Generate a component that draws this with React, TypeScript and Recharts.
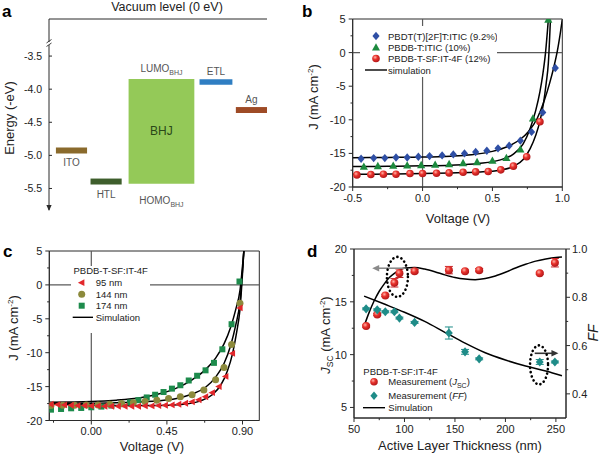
import React from 'react';
import {
  ComposedChart, Scatter, Line, XAxis, YAxis, ReferenceLine, ReferenceArea,
  ReferenceDot, Legend, ErrorBar,
} from 'recharts';

const FONT = '"Liberation Sans", Arial, Helvetica, sans-serif';
const AXIS = '#2b2b2b';
const ZERO = '#5a5a5a';
const TXT = '#222';
const W = 600;
const H = 455;

// ---------------- Panel a : energy levels ----------------
const layerNames = ['ITO', 'HTL', 'BHJ', 'ETL', 'Ag'];
const layerUpper = [-4.88, -5.35, -3.845, -3.85, -4.27];
const layerLower = [-4.97, -5.44, -5.43, -3.935, -4.36];
const layerColors = ['#8A6A2C', '#3E5E2C', '#94C958', '#2F7EC2', '#9E4B26'];
const energyTicks = [-5.5, -5.0, -4.5, -4.0, -3.5];
const energyTop = -2.94;
const energyBottom = -5.825;

// ---------------- Panel b : J-V of three blends ----------------
const bBlueV = [-0.44, -0.35, -0.27, -0.19, -0.11, -0.03, 0.05, 0.14, 0.22, 0.30, 0.38, 0.46, 0.54, 0.62, 0.70, 0.78, 0.86, 0.95];
const bBlueJ = [-15.8, -15.7, -15.7, -15.6, -15.6, -15.5, -15.4, -15.3, -15.15, -15.0, -14.8, -14.6, -14.25, -13.85, -13.1, -11.8, -8.9, -2.3];
const bGreenV = [-0.42, -0.32, -0.21, -0.11, -0.01, 0.09, 0.19, 0.29, 0.39, 0.50, 0.60, 0.70, 0.79, 0.90];
const bGreenJ = [-17.0, -16.9, -16.85, -16.8, -16.75, -16.7, -16.6, -16.45, -16.3, -16.1, -15.7, -14.4, -9.8, 4.9];
const bRedV = [-0.47, -0.37, -0.28, -0.19, -0.09, 0.0, 0.10, 0.19, 0.29, 0.38, 0.47, 0.56, 0.65, 0.745, 0.84];
const bRedJ = [-18.2, -18.15, -18.1, -18.1, -18.0, -18.0, -17.95, -17.9, -17.8, -17.75, -17.7, -17.45, -16.9, -15.5, -10.3];
const bSimBlueV = [-0.5, -0.25, 0, 0.2, 0.35, 0.5, 0.6, 0.7, 0.76, 0.82, 0.87, 0.91, 0.94, 0.965, 0.985, 1.0];
const bSimBlueJ = [-15.65, -15.6, -15.55, -15.42, -15.2, -14.7, -14.05, -12.9, -11.7, -9.8, -7.2, -4.5, -2.1, 0.3, 2.8, 4.9];
const bSimGreenV = [-0.5, -0.25, 0, 0.2, 0.4, 0.55, 0.65, 0.72, 0.77, 0.81, 0.84, 0.86, 0.88, 0.9];
const bSimGreenJ = [-16.95, -16.92, -16.85, -16.75, -16.5, -16.0, -15.1, -13.6, -11.3, -8.6, -5.8, -3.3, 0.0, 4.9];
const bSimRedV = [-0.5, -0.25, 0, 0.2, 0.4, 0.55, 0.65, 0.72, 0.77, 0.81, 0.84, 0.865, 0.885, 0.9, 0.915];
const bSimRedJ = [-18.1, -18.07, -18.0, -17.92, -17.78, -17.5, -16.95, -15.9, -14.3, -12.3, -10.2, -7.6, -4.5, -1.6, 4.9];
const bLegendNames = ['PBDT(T)[2F]T:ITIC (9.2%)', 'PBDB-T:ITIC (10%)', 'PBDB-T-SF:IT-4F (12%)', 'simulation'];

// ---------------- Panel c : thickness-dependent J-V ----------------
const cRedV = [-0.24, -0.20, -0.16, -0.12, -0.08, -0.04, 0.00, 0.04, 0.08, 0.12, 0.16, 0.20, 0.24, 0.28, 0.32, 0.36, 0.40, 0.44, 0.48, 0.52, 0.56, 0.60, 0.64, 0.68, 0.72, 0.76, 0.80, 0.84, 0.885];
const cRedJ = [-17.6, -17.65, -17.7, -17.75, -17.8, -17.8, -17.85, -17.85, -17.9, -17.9, -17.9, -17.9, -17.9, -17.9, -17.85, -17.85, -17.8, -17.75, -17.7, -17.6, -17.45, -17.25, -16.95, -16.5, -15.9, -15.0, -13.5, -10.1, -3.4];
const cOliveV = [-0.24, -0.17, -0.10, -0.03, 0.04, 0.11, 0.18, 0.25, 0.32, 0.39, 0.46, 0.53, 0.60, 0.67, 0.74, 0.79, 0.835, 0.885];
const cOliveJ = [-17.8, -17.75, -17.75, -17.7, -17.7, -17.6, -17.5, -17.4, -17.2, -17.0, -16.75, -16.5, -16.2, -15.5, -14.0, -12.2, -8.8, -2.7];
const cGreenV = [-0.24, -0.18, -0.12, -0.06, 0.00, 0.06, 0.12, 0.18, 0.23, 0.28, 0.33, 0.38, 0.43, 0.48, 0.53, 0.58, 0.63, 0.68, 0.73, 0.78, 0.835, 0.882];
const cGreenJ = [-18.4, -18.3, -18.2, -18.15, -18.05, -17.95, -17.8, -17.6, -17.35, -17.0, -16.6, -16.2, -15.8, -15.3, -14.8, -14.1, -13.4, -12.6, -11.5, -9.5, -5.8, 0.5];
const cSimGreenV = [-0.25, 0, 0.15, 0.3, 0.4, 0.5, 0.6, 0.68, 0.74, 0.79, 0.83, 0.86, 0.885, 0.908];
const cSimGreenJ = [-17.3, -17.2, -17.0, -16.6, -16.1, -15.3, -14.0, -12.5, -10.8, -8.7, -6.2, -3.6, -0.8, 5];
const cSimOliveV = [-0.25, 0, 0.2, 0.4, 0.5, 0.6, 0.68, 0.74, 0.79, 0.83, 0.86, 0.885, 0.908];
const cSimOliveJ = [-17.45, -17.45, -17.35, -17.1, -16.8, -16.1, -15.1, -13.6, -11.6, -8.9, -5.9, -2.5, 5];
const cSimRedV = [-0.25, 0, 0.2, 0.4, 0.55, 0.65, 0.72, 0.77, 0.81, 0.84, 0.865, 0.885, 0.908];
const cSimRedJ = [-17.6, -17.7, -17.8, -17.8, -17.6, -17.1, -16.2, -14.8, -12.7, -10.2, -7.0, -3.6, 5];
const cLegendTitle = 'PBDB-T-SF:IT-4F';
const cLegendNames = ['95 nm', '144 nm', '174 nm', 'Simulation'];

// ---------------- Panel d : Jsc / FF vs thickness ----------------
const dThickness = [62, 73, 81, 90, 95, 110, 144, 160, 174, 234, 249];
const dJsc = [12.7, 13.8, 15.6, 16.8, 17.7, 17.9, 18.0, 17.9, 18.0, 17.7, 18.7];
const dJscErr = [0.1, 0.1, 0.1, 0.4, 0.4, 0.15, 0.35, 0.1, 0.15, 0.1, 0.4];
const dFF = [0.752, 0.748, 0.74, 0.74, 0.714, 0.696, 0.652, 0.574, 0.545, 0.532, 0.532];
const dFFErr = [0.004, 0.004, 0.004, 0.004, 0.004, 0.004, 0.025, 0.01, 0.004, 0.01, 0.004];
const dSimJscT = [60, 65, 70, 75, 80, 85, 90, 95, 100, 110, 120, 130, 140, 150, 160, 170, 180, 190, 200, 210, 220, 230, 240, 250, 256];
const dSimJsc = [12.7, 14.0, 15.1, 16.0, 16.7, 17.3, 17.7, 18.0, 18.2, 18.25, 18.1, 17.85, 17.55, 17.3, 17.15, 17.1, 17.2, 17.45, 17.8, 18.2, 18.55, 18.85, 19.05, 19.2, 19.25];
const dSimFFT = [60, 80, 100, 120, 140, 160, 180, 200, 220, 240, 256];
const dSimFF = [0.805, 0.772, 0.738, 0.70, 0.655, 0.61, 0.57, 0.54, 0.515, 0.495, 0.475];
const dLegendTitle = 'PBDB-T-SF:IT-4F';

// ---------------- helpers ----------------
const pts = (xs: number[], ys: number[], key = 'v') => xs.map((x, i) => ({ [key]: x, j: ys[i] }));

type Side = 'left' | 'right' | 'bottom';
const makeTick = (side: Side, majors: number[], fmt: (v: number) => string, inward = false, fs = 11) => (props: any) => {
  const { x, y, payload } = props;
  const v = Number(payload?.value);
  const major = majors.some((m) => Math.abs(m - v) < 1e-6);
  const len = major ? 4 : 2.2;
  const st = { fontFamily: FONT, fontSize: fs, fill: TXT };
  if (side === 'bottom') {
    const ay = y - 6;
    return (
      <g>
        <line x1={x} x2={x} y1={ay} y2={ay + len} stroke={AXIS} />
        {major && <text x={x} y={ay + 14.5} textAnchor="middle" {...st}>{fmt(v)}</text>}
      </g>
    );
  }
  if (side === 'left') {
    const ax = x + 6;
    const dir = inward ? 1 : -1;
    return (
      <g>
        <line x1={ax} x2={ax + dir * (inward ? 3 : len)} y1={y} y2={y} stroke={AXIS} />
        {major && <text x={ax - 7} y={y + 4} textAnchor="end" {...st}>{fmt(v)}</text>}
      </g>
    );
  }
  const ax = x - 6;
  return (
    <g>
      <line x1={ax} x2={ax + len} y1={y} y2={y} stroke={AXIS} />
      {major && <text x={ax + 6} y={y + 4} textAnchor="start" {...st}>{fmt(v)}</text>}
    </g>
  );
};

const Diamond = ({ cx, cy, r, fill }: any) => (
  <path d={`M${cx},${cy - r}L${cx + r * 0.85},${cy}L${cx},${cy + r}L${cx - r * 0.85},${cy}Z`} fill={fill} />
);
const TriUp = ({ cx, cy, r, fill }: any) => (
  <path d={`M${cx},${cy - r}L${cx + r * 0.95},${cy + r * 0.7}L${cx - r * 0.95},${cy + r * 0.7}Z`} fill={fill} />
);
const TriLeft = ({ cx, cy, r, fill }: any) => (
  <path d={`M${cx - r},${cy}L${cx + r * 0.7},${cy - r * 0.9}L${cx + r * 0.7},${cy + r * 0.9}Z`} fill={fill} />
);
const Square = ({ cx, cy, r, fill }: any) => <rect x={cx - r} y={cy - r} width={2 * r} height={2 * r} fill={fill} />;
const Ball = ({ cx, cy, r, fill }: any) => <circle cx={cx} cy={cy} r={r} fill={fill} />;

const BLUE = '#2F4FA5';
const GREEN_T = '#1C8A3E';
const RED = 'url(#ballRed)';
const C_RED = '#E2272B';
const C_OLIVE = '#8C8A3C';
const C_GREEN = '#1D8B4C';
const TEAL = '#1F8C88';

const lgText = { fontFamily: FONT, fontSize: 9.5, fill: TXT };

// ---------------- Panel a ----------------
const layerLabel = (i: number) => (props: any) => {
  const vb = props?.viewBox || {};
  const x = vb.x ?? 0, y = vb.y ?? 0, w = vb.width ?? 0, h = vb.height ?? 0;
  const cx = x + w / 2;
  const st = { fontFamily: FONT, fontSize: 10, fill: '#555', textAnchor: 'middle' as const };
  const name = layerNames[i];
  if (name === 'BHJ') {
    return (
      <g>
        <text {...st} x={cx} y={y - 7}>LUMO<tspan fontSize={7} dy={3}>BHJ</tspan></text>
        <text {...st} fontSize={12} fill="#2A4818" x={cx} y={y + h / 2 + 4}>BHJ</text>
        <text {...st} x={cx} y={y + h + 20}>HOMO<tspan fontSize={7} dy={3}>BHJ</tspan></text>
      </g>
    );
  }
  if (i < 2) return <text {...st} x={cx} y={y + h + 13}>{name}</text>;
  return <text {...st} x={cx} y={y - 4.5}>{name}</text>;
};

const breakShape = (p: any) => (
  <g>
    <rect x={p.cx - 3} y={p.cy - 1.5} width={6} height={3} fill="#fff" />
    <line x1={p.cx - 2.5} y1={p.cy - 0.5} x2={p.cx + 2.5} y2={p.cy - 4} stroke={AXIS} strokeWidth={0.9} />
    <line x1={p.cx - 2.5} y1={p.cy + 3} x2={p.cx + 2.5} y2={p.cy - 0.5} stroke={AXIS} strokeWidth={0.9} />
  </g>
);
const arrowDown = (p: any) => (
  <path d={`M${p.cx - 2.6},${p.cy - 5}L${p.cx + 2.6},${p.cy - 5}L${p.cx},${p.cy + 1}Z`} fill={AXIS} />
);

function PanelA() {
  const slots = [[0.2, 1.1], [1.2, 2.1], [2.3, 4.2], [4.35, 5.3], [5.4, 6.3]];
  const data = layerNames.map((n, i) => ({ x: (slots[i][0] + slots[i][1]) / 2, e: (layerUpper[i] + layerLower[i]) / 2 }));
  return (
    <ComposedChart width={W} height={H} data={data} margin={{ top: 19, right: 333, bottom: 245, left: 19 }}>
      <XAxis type="number" dataKey="x" domain={[0, 6.3]} hide allowDataOverflow />
      <YAxis type="number" domain={[energyBottom, energyTop]} ticks={energyTicks} width={30} allowDataOverflow interval={0}
        axisLine={{ stroke: AXIS }} tickLine={false} tickSize={4} tickMargin={2}
        tick={makeTick('left', energyTicks, (v) => v.toFixed(1), true, 10.5)} />
      <ReferenceLine y={energyTop} stroke={AXIS} ifOverflow="visible" />
      {layerNames.map((n, i) => (
        <ReferenceArea key={n} x1={slots[i][0]} x2={slots[i][1]} y1={layerLower[i]} y2={layerUpper[i]}
          fill={layerColors[i]} fillOpacity={1} stroke="none" ifOverflow="visible" label={layerLabel(i)} />
      ))}
      <ReferenceDot x={0} y={-3.31} ifOverflow="visible" shape={breakShape} />
      <ReferenceDot x={0} y={energyBottom} ifOverflow="visible" shape={arrowDown} />
    </ComposedChart>
  );
}

// ---------------- Panel b ----------------
const legendB = () => (
  <svg width={137} height={51} style={{ display: 'block' }}>
    <Diamond cx={16} cy={10} r={4.2} fill={BLUE} />
    <TriUp cx={16} cy={21.5} r={4.2} fill={GREEN_T} />
    <Ball cx={16} cy={32.5} r={3.8} fill={RED} />
    <line x1={5} x2={27} y1={44} y2={44} stroke="#000" strokeWidth={1.4} />
    {bLegendNames.map((n, i) => (
      <text key={n} x={28} y={[10, 21.5, 32.5, 44][i] + 3.5} {...lgText}>{n}</text>
    ))}
  </svg>
);

function PanelB() {
  const xt = [-0.5, -0.25, 0, 0.25, 0.5, 0.75, 1.0];
  const yt = [-20, -17.5, -15, -12.5, -10, -7.5, -5, -2.5, 0, 2.5, 5];
  return (
    <ComposedChart width={W} height={H} margin={{ top: 19, right: 37.7, bottom: 248, left: 322.7 }}>
      <XAxis type="number" dataKey="v" domain={[-0.5, 1.0]} ticks={xt} interval={0} allowDataOverflow height={20}
        axisLine={{ stroke: AXIS }} tickLine={false} tickSize={4} tickMargin={2}
        tick={makeTick('bottom', [-0.5, 0, 0.5, 1.0], (v) => v.toFixed(1))} />
      <YAxis type="number" domain={[-20, 5]} ticks={yt} interval={0} allowDataOverflow width={30}
        axisLine={{ stroke: AXIS }} tickLine={false} tickSize={4} tickMargin={2}
        tick={makeTick('left', [-20, -15, -10, -5, 0, 5], (v) => String(v))} />
      <ReferenceArea x1={-0.5} x2={1.0} y1={-20} y2={5} fill="none" stroke={AXIS} ifOverflow="visible" />
      <ReferenceLine x={0} stroke={ZERO} strokeWidth={1.2} />
      <ReferenceLine y={0} stroke={ZERO} strokeWidth={1.2} />
      <Line data={pts(bSimBlueV, bSimBlueJ)} dataKey="j" type="monotone" stroke="#000" strokeWidth={1.5} dot={false} isAnimationActive={false} />
      <Line data={pts(bSimGreenV, bSimGreenJ)} dataKey="j" type="monotone" stroke="#000" strokeWidth={1.5} dot={false} isAnimationActive={false} />
      <Line data={pts(bSimRedV, bSimRedJ)} dataKey="j" type="monotone" stroke="#000" strokeWidth={1.5} dot={false} isAnimationActive={false} />
      <Scatter data={pts(bBlueV, bBlueJ)} dataKey="j" isAnimationActive={false}
        shape={(p: any) => <Diamond cx={p.cx} cy={p.cy} r={4.2} fill={BLUE} />} />
      <Scatter data={pts(bGreenV, bGreenJ)} dataKey="j" isAnimationActive={false}
        shape={(p: any) => <TriUp cx={p.cx} cy={p.cy} r={4.3} fill={GREEN_T} />} />
      <Scatter data={pts(bRedV, bRedJ)} dataKey="j" isAnimationActive={false}
        shape={(p: any) => <Ball cx={p.cx} cy={p.cy} r={3.8} fill={RED} />} />
      <Legend layout="vertical" align="center" verticalAlign="middle" content={legendB}
        wrapperStyle={{ left: 360, top: 26, width: 137, height: 51, background: '#fff', lineHeight: 0 }} />
    </ComposedChart>
  );
}

// ---------------- Panel c ----------------
const legendC = () => (
  <svg width={79} height={67} style={{ display: 'block' }}>
    <text x={39.7} y={7.5} textAnchor="middle" {...lgText}>{cLegendTitle}</text>
    <TriLeft cx={10.7} cy={16.7} r={3.8} fill={C_RED} />
    <Ball cx={10.7} cy={28.3} r={3.5} fill={C_OLIVE} />
    <Square cx={10.7} cy={39.7} r={3} fill={C_GREEN} />
    <line x1={1.7} x2={22} y1={51.3} y2={51.3} stroke="#000" strokeWidth={1.4} />
    {cLegendNames.map((n, i) => (
      <text key={n} x={24.7} y={[16.7, 28.3, 39.7, 51.3][i] + 3.5} {...lgText}>{n}</text>
    ))}
  </svg>
);

function PanelC() {
  const xt = [-0.225, 0, 0.225, 0.45, 0.675, 0.9];
  const yt = [-20, -17.5, -15, -12.5, -10, -7.5, -5, -2.5, 0, 2.5, 5];
  return (
    <ComposedChart width={W} height={H} margin={{ top: 251, right: 340.7, bottom: 14.5, left: 19.3 }}>
      <XAxis type="number" dataKey="v" domain={[-0.25, 1.0]} ticks={xt} interval={0} allowDataOverflow height={20}
        axisLine={{ stroke: AXIS }} tickLine={false} tickSize={4} tickMargin={2}
        tick={makeTick('bottom', [0, 0.45, 0.9], (v) => v.toFixed(2))} />
      <YAxis type="number" domain={[-20, 5]} ticks={yt} interval={0} allowDataOverflow width={30}
        axisLine={{ stroke: AXIS }} tickLine={false} tickSize={4} tickMargin={2}
        tick={makeTick('left', [-20, -15, -10, -5, 0, 5], (v) => String(v))} />
      <ReferenceArea x1={-0.25} x2={1.0} y1={-20} y2={5} fill="none" stroke={AXIS} ifOverflow="visible" />
      <ReferenceLine x={0} stroke={ZERO} strokeWidth={1.2} />
      <ReferenceLine y={0} stroke={ZERO} strokeWidth={1.2} />
      <Scatter data={pts(cGreenV, cGreenJ)} dataKey="j" isAnimationActive={false}
        shape={(p: any) => <Square cx={p.cx} cy={p.cy} r={3} fill={C_GREEN} />} />
      <Scatter data={pts(cOliveV, cOliveJ)} dataKey="j" isAnimationActive={false}
        shape={(p: any) => <Ball cx={p.cx} cy={p.cy} r={3.5} fill={C_OLIVE} />} />
      <Scatter data={pts(cRedV, cRedJ)} dataKey="j" isAnimationActive={false}
        shape={(p: any) => <TriLeft cx={p.cx} cy={p.cy} r={3.8} fill={C_RED} />} />
      <Line data={pts(cSimGreenV, cSimGreenJ)} dataKey="j" type="monotone" stroke="#000" strokeWidth={1.5} dot={false} isAnimationActive={false} />
      <Line data={pts(cSimOliveV, cSimOliveJ)} dataKey="j" type="monotone" stroke="#000" strokeWidth={1.5} dot={false} isAnimationActive={false} />
      <Line data={pts(cSimRedV, cSimRedJ)} dataKey="j" type="monotone" stroke="#000" strokeWidth={1.5} dot={false} isAnimationActive={false} />
      <Legend layout="vertical" align="center" verticalAlign="middle" content={legendC}
        wrapperStyle={{ left: 71, top: 266, width: 79, height: 67, background: '#fff', lineHeight: 0 }} />
    </ComposedChart>
  );
}

// ---------------- Panel d ----------------
const legendD = () => (
  <svg width={150} height={52} style={{ display: 'block' }}>
    <text x={5.3} y={12.5} {...lgText}>{dLegendTitle}</text>
    <Ball cx={16} cy={19.7} r={3.8} fill={RED} />
    <text x={30.3} y={23.2} {...lgText}>Measurement (<tspan fontStyle="italic">J</tspan><tspan fontSize={7} dy={2.5}>SC</tspan><tspan dy={-2.5}>)</tspan></text>
    <Diamond cx={16} cy={33.7} r={4.3} fill={TEAL} />
    <text x={30.3} y={37.2} {...lgText}>Measurement (<tspan fontStyle="italic">FF</tspan>)</text>
    <line x1={5} x2={27} y1={45.7} y2={45.7} stroke="#000" strokeWidth={1.4} />
    <text x={30.3} y={49.2} {...lgText}>Simulation</text>
  </svg>
);

const ellipseShape = (rx: number, ry: number) => (p: any) => (
  <ellipse cx={p.cx} cy={p.cy} rx={rx} ry={ry} fill="none" stroke="#000" strokeWidth={2.6}
    strokeDasharray="0.1 4.2" strokeLinecap="round" />
);
const arrowShape = (color: string) => (p: any) => {
  const { x1, y1, x2, y2 } = p;
  const dir = x2 > x1 ? 1 : -1;
  return (
    <g>
      <line x1={x1} y1={y1} x2={x2 - dir * 5} y2={y2} stroke={color} strokeWidth={1.6} />
      <path d={`M${x2},${y2}L${x2 - dir * 7},${y2 - 3.2}L${x2 - dir * 7},${y2 + 3.2}Z`} fill={color} />
    </g>
  );
};

function PanelD() {
  const xt = [50, 75, 100, 125, 150, 175, 200, 225, 250];
  const ylt = [5, 7.5, 10, 12.5, 15, 17.5, 20];
  const yrt = [0.4, 0.5, 0.6, 0.7, 0.8, 0.9, 1.0];
  const jscPts = dThickness.map((t, i) => ({ t, j: dJsc[i], e: dJscErr[i] }));
  const ffPts = dThickness.map((t, i) => ({ t, j: dFF[i], e: dFFErr[i] }));
  return (
    <ComposedChart width={W} height={H} margin={{ top: 249, right: 4, bottom: 17, left: 324 }}>
      <XAxis type="number" dataKey="t" domain={[50, 260]} ticks={xt} interval={0} allowDataOverflow height={20}
        axisLine={{ stroke: AXIS }} tickLine={false} tickSize={4} tickMargin={2}
        tick={makeTick('bottom', [50, 100, 150, 200, 250], (v) => String(v))} />
      <YAxis yAxisId="L" type="number" domain={[4, 20]} ticks={ylt} interval={0} allowDataOverflow width={30}
        axisLine={{ stroke: AXIS }} tickLine={false} tickSize={4} tickMargin={2}
        tick={makeTick('left', [5, 10, 15, 20], (v) => String(v))} />
      <YAxis yAxisId="R" orientation="right" type="number" domain={[0.3, 1.0]} ticks={yrt} interval={0} allowDataOverflow width={30}
        axisLine={{ stroke: AXIS }} tickLine={false} tickSize={4} tickMargin={2}
        tick={makeTick('right', [0.4, 0.6, 0.8, 1.0], (v) => v.toFixed(1))} />
      <ReferenceArea yAxisId="L" x1={50} x2={260} y1={4} y2={20} fill="none" stroke={AXIS} ifOverflow="visible" />
      <Line yAxisId="L" data={pts(dSimJscT, dSimJsc, 't')} dataKey="j" type="monotone" stroke="#000" strokeWidth={1.5} dot={false} isAnimationActive={false} />
      <Line yAxisId="R" data={pts(dSimFFT, dSimFF, 't')} dataKey="j" type="monotone" stroke="#000" strokeWidth={1.5} dot={false} isAnimationActive={false} />
      <Scatter yAxisId="L" data={jscPts} dataKey="j" isAnimationActive={false}
        shape={(p: any) => <Ball cx={p.cx} cy={p.cy} r={4} fill={RED} />}>
        <ErrorBar dataKey="e" direction="y" width={4} stroke="#C8262A" strokeWidth={1} />
      </Scatter>
      <Scatter yAxisId="R" data={ffPts} dataKey="j" isAnimationActive={false}
        shape={(p: any) => <Diamond cx={p.cx} cy={p.cy} r={4.6} fill={TEAL} />}>
        <ErrorBar dataKey="e" direction="y" width={4} stroke={TEAL} strokeWidth={1} />
      </Scatter>
      <ReferenceDot yAxisId="L" x={93} y={17.36} ifOverflow="visible" shape={ellipseShape(10.5, 20)} />
      <ReferenceDot yAxisId="R" x={233.3} y={0.52} ifOverflow="visible" shape={ellipseShape(9, 19.5)} />
      <ReferenceLine yAxisId="L" segment={[{ x: 101, y: 18.18 }, { x: 68, y: 18.18 }]} ifOverflow="visible" shape={arrowShape('#8a8a8a')} />
      <ReferenceLine yAxisId="R" segment={[{ x: 229, y: 0.568 }, { x: 252.5, y: 0.568 }]} ifOverflow="visible" shape={arrowShape('#333')} />
      <Legend layout="vertical" align="center" verticalAlign="middle" content={legendD}
        wrapperStyle={{ left: 358, top: 362, width: 150, height: 52, lineHeight: 0 }} />
    </ComposedChart>
  );
}

const Layer = ({ children }: any) => (
  <div style={{ position: 'absolute', left: 0, top: 0, width: W, height: H }}>{children}</div>
);

export default function App() {
  const title = { fontFamily: FONT, fontSize: 13, fill: TXT };
  const letter = { fontFamily: FONT, fontSize: 17, fontWeight: 700, fill: '#000' };
  return (
    <div style={{ position: 'absolute', left: 0, top: 0, width: W, height: H, background: '#fff', overflow: 'hidden' }}>
      <svg width={0} height={0} style={{ position: 'absolute' }}>
        <defs>
          <radialGradient id="ballRed" cx="38%" cy="35%" r="65%">
            <stop offset="0%" stopColor="#ffb3a8" />
            <stop offset="45%" stopColor="#e8322c" />
            <stop offset="100%" stopColor="#b3181a" />
          </radialGradient>
        </defs>
      </svg>
      <Layer><PanelA /></Layer>
      <Layer><PanelB /></Layer>
      <Layer><PanelC /></Layer>
      <Layer><PanelD /></Layer>
      <svg width={W} height={H} style={{ position: 'absolute', left: 0, top: 0, pointerEvents: 'none' }}>
        <text x={2} y={16.5} {...letter}>a</text>
        <text x={302} y={17} {...letter}>b</text>
        <text x={3} y={257} {...letter}>c</text>
        <text x={307} y={257} {...letter}>d</text>
        <text x={167} y={10.5} textAnchor="middle" {...title} fontSize={12.5}>Vacuum level (0 eV)</text>
        <text transform="translate(13.5,118) rotate(-90)" textAnchor="middle" {...title}>Energy (-eV)</text>
        <text transform="translate(318,97) rotate(-90)" textAnchor="middle" {...title}>J (mA cm<tspan fontSize={8} dy={-5}>-2</tspan><tspan dy={5}>)</tspan></text>
        <text x={458} y={223} textAnchor="middle" {...title}>Voltage (V)</text>
        <text transform="translate(17.5,328) rotate(-90)" textAnchor="middle" {...title}>J (mA cm<tspan fontSize={8} dy={-5}>-2</tspan><tspan dy={5}>)</tspan></text>
        <text x={152} y={451} textAnchor="middle" {...title}>Voltage (V)</text>
        <text x={460} y={449.5} textAnchor="middle" {...title}>Active Layer Thickness (nm)</text>
        <text transform="translate(330,335) rotate(-90)" textAnchor="middle" {...title}><tspan fontStyle="italic">J</tspan><tspan fontSize={8.5} dy={3}>SC</tspan><tspan dy={-3}> (mA cm</tspan><tspan fontSize={8} dy={-5}>-2</tspan><tspan dy={5}>)</tspan></text>
        <text transform="translate(598,333) rotate(-90)" textAnchor="middle" {...title} fontSize={14} fontStyle="italic">FF</text>
      </svg>
    </div>
  );
}
